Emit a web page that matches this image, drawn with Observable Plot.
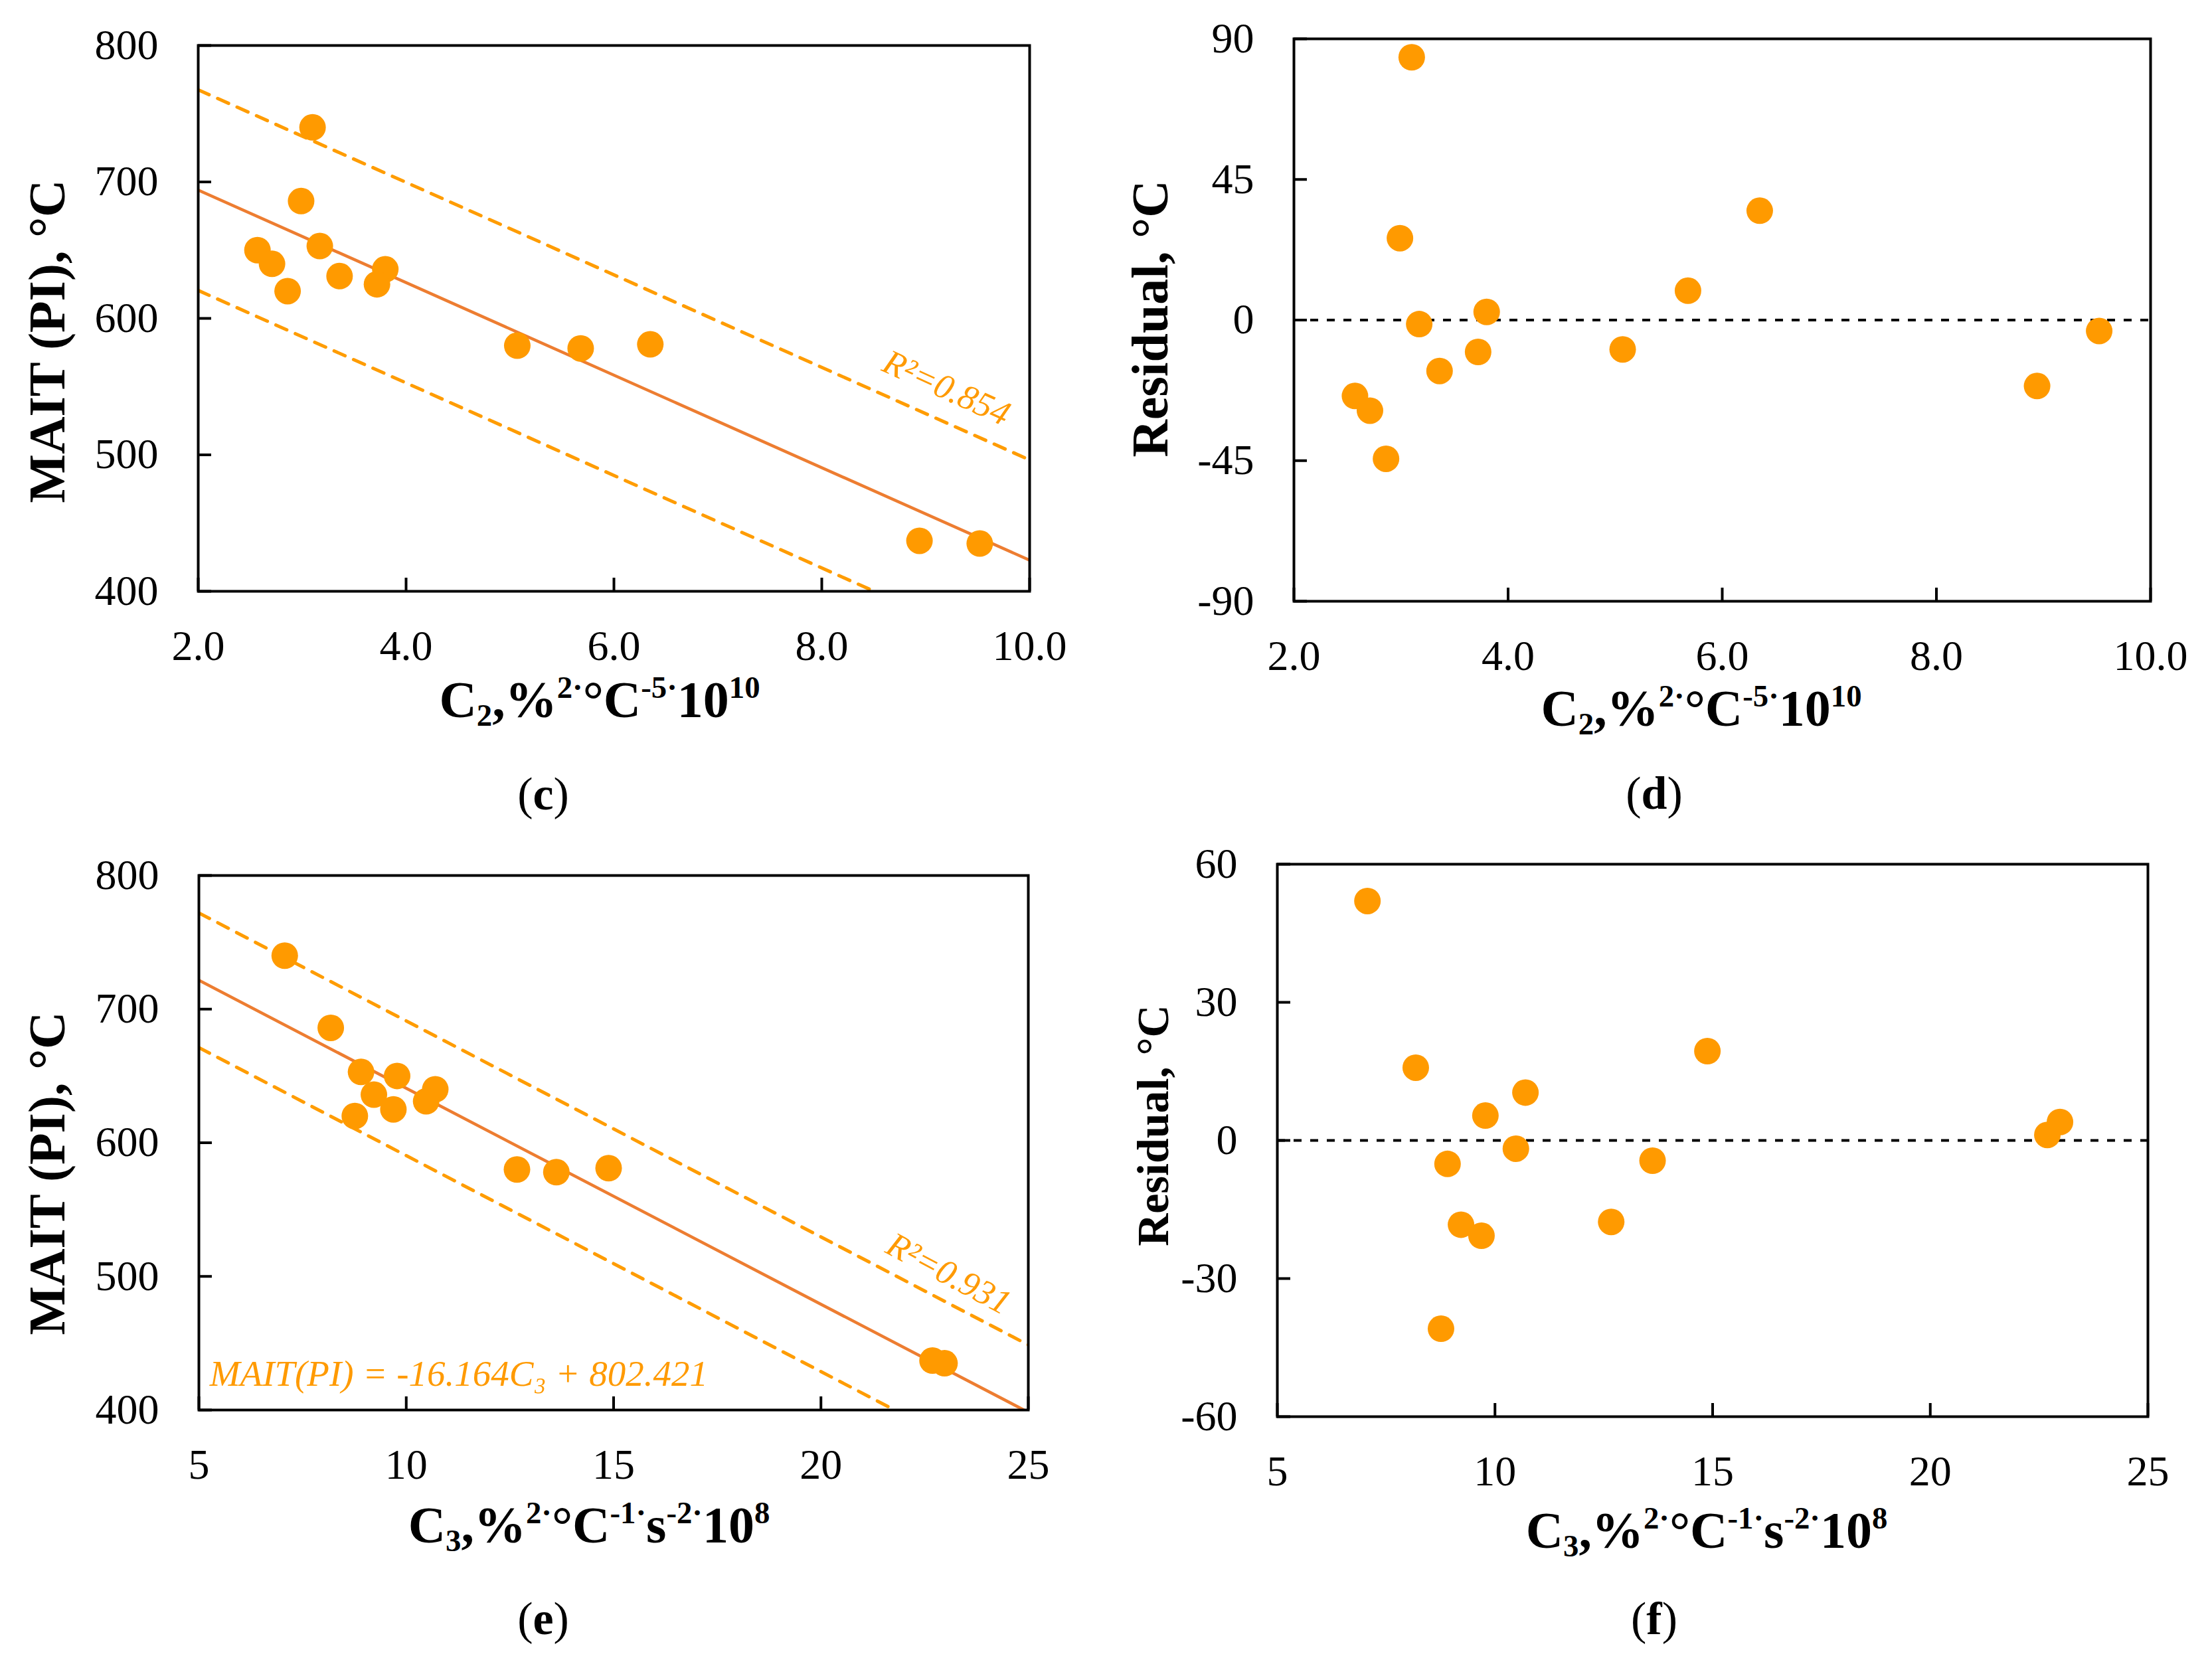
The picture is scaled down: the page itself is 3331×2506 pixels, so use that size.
<!DOCTYPE html>
<html>
<head>
<meta charset="utf-8">
<script src="https://cdn.jsdelivr.net/npm/d3@7"></script>
<script src="https://cdn.jsdelivr.net/npm/@observablehq/plot@0.6"></script>
<style>
  html, body { margin: 0; padding: 0; background: #fff; }
  #fig { position: relative; width: 3331px; height: 2506px; background: #fff; overflow: hidden; }
  .lbl { position: absolute; white-space: nowrap; font-family: "Liberation Serif", "Times New Roman", serif; color: #000; line-height: 1; }
  .lbl sub, .lbl sup { font-size: 0.6em; line-height: 0; }
  .lbl sub { vertical-align: -0.28em; }
  .lbl sup { vertical-align: 0.62em; }
</style>
</head>
<body>
<div id="fig"></div>
<script>
// ---------------- data ----------------
const mait  = [740, 686, 653, 650, 640, 636, 631, 625, 620, 581, 580, 578, 437, 435];
const c2    = [3.10, 2.99, 3.17, 2.57, 2.71, 3.80, 3.36, 3.72, 2.86, 6.35, 5.07, 5.68, 8.94, 9.52];
const c3    = [7.07, 8.18, 8.91, 9.78, 10.70, 9.22, 10.48, 9.69, 8.76, 14.88, 12.67, 13.62, 22.69, 22.98];
const res2  = [84.1, 26.2, -1.3, -24.3, -29.0, 2.6, -16.3, -10.2, -44.4, 35.0, -9.4, 9.4, -21.1, -3.5];
const res3  = [52.0, 15.8, -5.1, 5.4, 10.4, -18.3, -1.8, -20.7, -40.9, 19.4, -17.7, -4.4, 1.2, 4.0];

// fitted lines and bands as shown
const fitC = {slope: -33.9, intercept: 761.8, band: 73.5};
const fitE = {slope: -16.164, intercept: 802.421, band: 50.4};

// axes
const c2Ticks  = [2, 4, 6, 8, 10];
const c3Ticks  = [5, 10, 15, 20, 25];
const maitTicks = [400, 500, 600, 700, 800];
const res2Ticks = [-90, -45, 0, 45, 90];
const res3Ticks = [-60, -30, 0, 30, 60];

const r2C = "R\u00B2=0.854";
const r2E = "R\u00B2=0.931";
const eqE = "MAIT(PI) = -16.164C\u2083 + 802.421";

// ---------------- build ----------------
const samples = mait.map((m, i) => ({mait: m, c2: c2[i], c3: c3[i], res2: res2[i], res3: res3[i]}));

const ORANGE = "#FF9A00";
const FITCOL = "#ED7D31";
const BANDCOL = "#FF9C00";
const SERIF = "Liberation Serif";

function fitLines(fit, xr) {
  const pts = (off) => xr.map(x => ({x, y: fit.intercept + fit.slope * x + off}));
  return [
    Plot.line(pts(0), {x: "x", y: "y", stroke: FITCOL, strokeWidth: 4.5, clip: true}),
    Plot.line(pts(fit.band), {x: "x", y: "y", stroke: BANDCOL, strokeWidth: 5, strokeDasharray: "18,14", clip: true}),
    Plot.line(pts(-fit.band), {x: "x", y: "y", stroke: BANDCOL, strokeWidth: 5, strokeDasharray: "18,14", clip: true})
  ];
}

const fig = document.getElementById("fig");

function panel(cfg) {
  const [L, T, R, B] = cfg.frame;
  const mL = 220, mR = 60, mT = 60, mB = 170;
  const iw = R - L, ih = B - T;
  const chart = Plot.plot({
    width: iw + mL + mR,
    height: ih + mT + mB,
    marginLeft: mL, marginRight: mR, marginTop: mT, marginBottom: mB,
    x: {domain: cfg.xDomain},
    y: {domain: cfg.yDomain},
    style: {fontFamily: SERIF, fontSize: "64px", color: "#000", background: "transparent", overflow: "visible"},
    marks: [
      ...cfg.marks,
      Plot.ruleX(cfg.xTicks, {x: d => d, insetTop: ih - 20, stroke: "#000", strokeWidth: 4}),
      Plot.ruleY(cfg.yTicks, {y: d => d, insetRight: iw - 20, stroke: "#000", strokeWidth: 4}),
      Plot.axisX({ticks: cfg.xTicks, tickFormat: cfg.xFmt, tickSize: 0, tickPadding: 58, label: null, fontSize: 64}),
      Plot.axisY({ticks: cfg.yTicks, tickFormat: d => String(d), tickSize: 0, tickPadding: 60, label: null, fontSize: 64}),
      Plot.frame({stroke: "#000", strokeWidth: 4})
    ]
  });
  chart.style.position = "absolute";
  chart.style.left = (L - mL) + "px";
  chart.style.top = (T - mT) + "px";
  chart.style.maxWidth = "none";
  fig.appendChild(chart);
}

const fmt1 = d3.format(".1f");

// (c)
panel({
  frame: [298, 68, 1550, 890],
  xDomain: [2, 10], yDomain: [400, 800],
  xTicks: c2Ticks, yTicks: maitTicks, xFmt: fmt1,
  marks: [
    ...fitLines(fitC, [2, 10]),
    Plot.dot(samples, {x: "c2", y: "mait", r: 20, fill: ORANGE}),
    Plot.text([{x: 9.20, y: 549, t: r2C}], {x: "x", y: "y", text: "t", rotate: 24.5, fontSize: 53, fontStyle: "italic", fontFamily: SERIF, fill: ORANGE})
  ]
});

// (d)
panel({
  frame: [1948, 58, 3238, 905],
  xDomain: [2, 10], yDomain: [-90, 90],
  xTicks: c2Ticks, yTicks: res2Ticks, xFmt: fmt1,
  marks: [
    Plot.ruleY([0], {stroke: "#000", strokeWidth: 4, strokeDasharray: "12,13"}),
    Plot.dot(samples, {x: "c2", y: "res2", r: 20, fill: ORANGE})
  ]
});

// (e)
panel({
  frame: [299, 1318, 1548, 2123],
  xDomain: [5, 25], yDomain: [400, 800],
  xTicks: c3Ticks, yTicks: maitTicks, xFmt: d => String(d),
  marks: [
    ...fitLines(fitE, [5, 25]),
    Plot.dot(samples, {x: "c3", y: "mait", r: 20, fill: ORANGE}),
    Plot.text([{x: 23.08, y: 502, t: r2E}], {x: "x", y: "y", text: "t", rotate: 28, fontSize: 53, fontStyle: "italic", fontFamily: SERIF, fill: ORANGE}),
    Plot.text([{x: 5.26, y: 418, t: eqE}], {x: "x", y: "y", text: "t", textAnchor: "start", lineAnchor: "bottom", fontSize: 55, fontStyle: "italic", fontFamily: SERIF, fill: ORANGE})
  ]
});

// (f)
panel({
  frame: [1923, 1301, 3234, 2133],
  xDomain: [5, 25], yDomain: [-60, 60],
  xTicks: c3Ticks, yTicks: res3Ticks, xFmt: d => String(d),
  marks: [
    Plot.ruleY([0], {stroke: "#000", strokeWidth: 4, strokeDasharray: "12,13"}),
    Plot.dot(samples, {x: "c3", y: "res3", r: 20, fill: ORANGE})
  ]
});

// ---------------- text labels ----------------
function label(html, x, y, size, weight, rotate) {
  const d = document.createElement("div");
  d.className = "lbl";
  d.innerHTML = html;
  d.style.left = x + "px";
  d.style.top = y + "px";
  d.style.fontSize = size + "px";
  d.style.fontWeight = weight || "normal";
  d.style.transform = "translate(-50%,-50%)" + (rotate ? " rotate(" + rotate + "deg)" : "");
  fig.appendChild(d);
}

const xTitle2 = "C<sub>2</sub>,%<sup>2·</sup>°C<sup>-5·</sup>10<sup>10</sup>";
const xTitle3 = "C<sub>3</sub>,%<sup>2·</sup>°C<sup>-1·</sup>s<sup>-2·</sup>10<sup>8</sup>";
const yTitleM = "MAIT (PI), °C";
const yTitleR = "Residual, °C";

label(xTitle2, 903, 1054, 78, "bold");
label(xTitle2, 2562, 1067, 78, "bold");
label(xTitle3, 887, 2297, 78, "bold");
label(xTitle3, 2570, 2305, 78, "bold");

label(yTitleM, 71, 514, 78, "bold", -90);
label(yTitleR, 1732, 480, 78, "bold", -90);
label(yTitleM, 71, 1767, 78, "bold", -90);
label(yTitleR, 1736, 1695, 68, "bold", -90);

label("(<b>c</b>)", 818, 1196, 70);
label("(<b>d</b>)", 2491, 1195, 70);
label("(<b>e</b>)", 818, 2438, 70);
label("(<b>f</b>)", 2491, 2438, 70);
</script>
</body>
</html>
